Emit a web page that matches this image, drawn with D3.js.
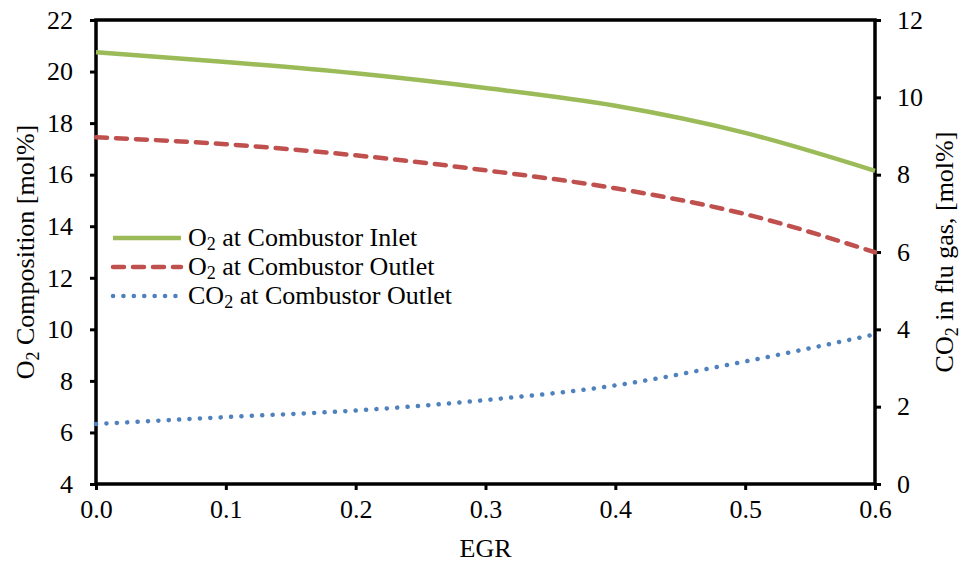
<!DOCTYPE html>
<html>
<head>
<meta charset="utf-8">
<script src="https://cdn.jsdelivr.net/npm/d3@7"></script>
<style>
  body { margin: 0; background: #fff; }
  text { font-family: "Liberation Serif", "Times New Roman", serif; fill: #000; }
</style>
</head>
<body>
<script>
var w = 963;
var h = 567;

// data
var egr = [0.0, 0.1, 0.2, 0.3, 0.4, 0.5, 0.6];
var o2Inlet = [20.75, 20.37, 19.93, 19.36, 18.67, 17.62, 16.15];
var o2Outlet = [17.45, 17.18, 16.75, 16.17, 15.47, 14.47, 12.99];
var co2Outlet = [1.55, 1.73, 1.9, 2.17, 2.55, 3.17, 3.87];

var xTicks = [0, 0.1, 0.2, 0.3, 0.4, 0.5, 0.6];
var leftTicks = [4, 6, 8, 10, 12, 14, 16, 18, 20, 22];
var rightTicks = [0, 2, 4, 6, 8, 10, 12];

var margin = { left: 96, right: 88, top: 20, bottom: 83 };
var pw = w - margin.left - margin.right;
var ph = h - margin.top - margin.bottom;
var fs = "26px";
var subFs = "18px";

var svg = d3.select("body")
  .append("svg")
  .attr("width", w)
  .attr("height", h);

var g = svg.append("g")
  .attr("transform", "translate(" + margin.left + "," + margin.top + ")");

var x = d3.scaleLinear().domain([0, 0.6]).range([0, pw]);
var yL = d3.scaleLinear().domain([4, 22]).range([ph, 0]);
var yR = d3.scaleLinear().domain([0, 12]).range([ph, 0]);

// axes
var xAxis = g.append("g")
  .attr("transform", "translate(0," + ph + ")")
  .call(d3.axisBottom(x).tickValues(xTicks).tickFormat(d3.format(".1f")).tickSize(6).tickPadding(10));

var leftAxis = g.append("g")
  .call(d3.axisLeft(yL).tickValues(leftTicks).tickSize(6).tickPadding(17));

var rightAxis = g.append("g")
  .attr("transform", "translate(" + pw + ",0)")
  .call(d3.axisRight(yR).tickValues(rightTicks).tickSize(6).tickPadding(16));

[xAxis, leftAxis, rightAxis].forEach(function(a) {
  a.selectAll("path").remove();
  a.selectAll("line").attr("stroke", "#000").attr("stroke-width", 3);
  a.selectAll("text")
    .style("font-family", "'Liberation Serif', serif")
    .style("font-size", fs)
    .attr("fill", "#000");
});

// frame
g.append("rect")
  .attr("x", 0)
  .attr("y", 0)
  .attr("width", pw)
  .attr("height", ph)
  .attr("fill", "none")
  .attr("stroke", "#000")
  .attr("stroke-width", 3.5);

// lines
function makeLine(scale, vals) {
  return d3.line()
    .x(function(d, i) { return x(egr[i]); })
    .y(function(d) { return scale(d); })
    .curve(d3.curveMonotoneX)(vals);
}

var series = [
  { name: "O", sub: "2", rest: " at Combustor Inlet", vals: o2Inlet, scale: yL, color: "#9BBB59", dash: null, cap: "butt" },
  { name: "O", sub: "2", rest: " at Combustor Outlet", vals: o2Outlet, scale: yL, color: "#C0504D", dash: "11,9", cap: "round" },
  { name: "CO", sub: "2", rest: " at Combustor Outlet", vals: co2Outlet, scale: yR, color: "#4F81BD", dash: "0.1,10.3", cap: "round" }
];

series.forEach(function(s) {
  g.append("path")
    .attr("d", makeLine(s.scale, s.vals))
    .attr("fill", "none")
    .attr("stroke", s.color)
    .attr("stroke-width", 4.5)
    .attr("stroke-linecap", s.cap)
    .attr("stroke-dasharray", s.dash);
});

// legend
var legend = svg.append("g").attr("transform", "translate(111,238)");
series.forEach(function(s, i) {
  var row = legend.append("g").attr("transform", "translate(0," + (i * 29) + ")");
  row.append("line")
    .attr("x1", 2).attr("x2", 70)
    .attr("y1", 0).attr("y2", 0)
    .attr("stroke", s.color)
    .attr("stroke-width", 4.5)
    .attr("stroke-linecap", s.cap)
    .attr("stroke-dasharray", s.dash);
  var t = row.append("text")
    .attr("x", 77)
    .attr("y", 8)
    .style("font-size", fs);
  t.append("tspan").text(s.name);
  t.append("tspan").attr("dy", 4).style("font-size", subFs).text(s.sub);
  t.append("tspan").attr("dy", -4).text(s.rest);
});

// axis titles
svg.append("text")
  .attr("x", margin.left + pw / 2)
  .attr("y", 557)
  .attr("text-anchor", "middle")
  .style("font-size", fs)
  .text("EGR");

var lt = svg.append("text")
  .attr("transform", "translate(34," + (margin.top + ph / 2) + ") rotate(-90)")
  .attr("text-anchor", "middle")
  .style("font-size", fs);
lt.append("tspan").text("O");
lt.append("tspan").attr("dy", 5).style("font-size", subFs).text("2");
lt.append("tspan").attr("dy", -5).text(" Composition [mol%]");

var rt = svg.append("text")
  .attr("transform", "translate(953," + (margin.top + ph / 2) + ") rotate(-90)")
  .attr("text-anchor", "middle")
  .style("font-size", fs);
rt.append("tspan").text("CO");
rt.append("tspan").attr("dy", 5).style("font-size", subFs).text("2");
rt.append("tspan").attr("dy", -5).text(" in flu gas, [mol%]");
</script>
</body>
</html>
